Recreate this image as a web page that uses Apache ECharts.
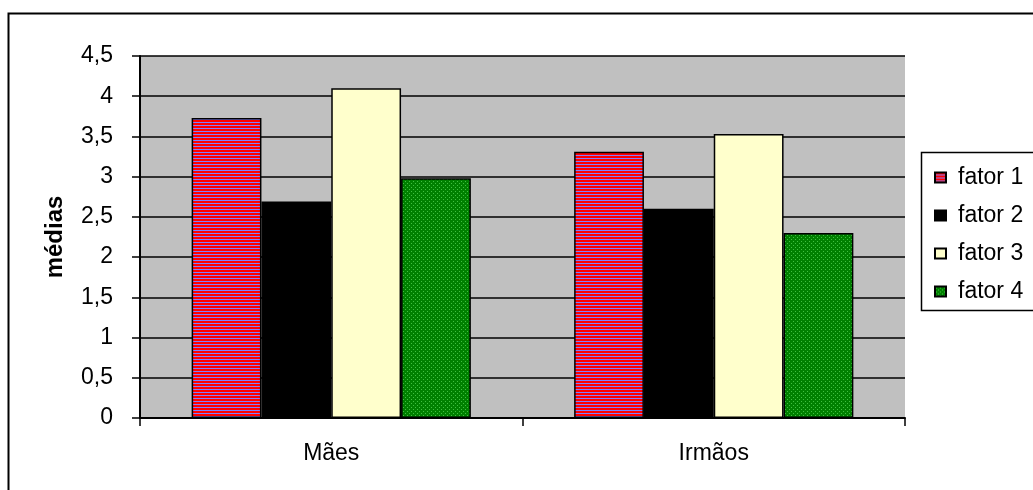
<!DOCTYPE html>
<html>
<head>
<meta charset="utf-8">
<script src="https://cdn.jsdelivr.net/npm/echarts@6/dist/echarts.min.js"></script>
<style>
  html, body { margin: 0; padding: 0; background: #fff; }
  #chart { width: 1033px; height: 490px; }
</style>
</head>
<body>
<div id="chart"></div>
<script>
// Group names along the x axis
const categories = ['Mães', 'Irmãos'];
// Series names
const seriesNames = ['fator 1', 'fator 2', 'fator 3', 'fator 4'];
// Mean scores per factor (Mães, Irmãos)
const fator1 = [3.73, 3.31];
const fator2 = [2.69, 2.60];
const fator3 = [4.10, 3.53];
const fator4 = [2.98, 2.30];
// Y axis tick values
const yTicks = [0, 0.5, 1, 1.5, 2, 2.5, 3, 3.5, 4, 4.5];

// Horizontal red / lavender stripe fill
function stripePattern() {
  const c = document.createElement('canvas');
  c.width = 4; c.height = 3;
  const g = c.getContext('2d');
  g.fillStyle = '#ff0000'; g.fillRect(0, 0, 4, 2);
  g.fillStyle = '#8080ff'; g.fillRect(0, 2, 4, 1);
  return { image: c, repeat: 'repeat' };
}
// Dotted green fill
function dotPattern() {
  const c = document.createElement('canvas');
  c.width = 4; c.height = 4;
  const g = c.getContext('2d');
  g.fillStyle = '#008000'; g.fillRect(0, 0, 4, 4);
  g.fillStyle = '#40c040';
  g.fillRect(1, 1, 1, 1);
  g.fillRect(3, 3, 1, 1);
  return { image: c, repeat: 'repeat' };
}

const fills = [stripePattern(), '#000000', '#ffffcc', dotPattern()];
const values = [fator1, fator2, fator3, fator4];

const chart = echarts.init(document.getElementById('chart'), null, { renderer: 'canvas' });

const font = 'Arial, "Liberation Sans", sans-serif';
const fs = 23;

chart.setOption({
  animation: false,
  backgroundColor: '#ffffff',
  textStyle: { fontFamily: font },
  graphic: [
    {
      type: 'rect',
      shape: { x: 8.5, y: 13.5, width: 1100, height: 600 },
      style: { fill: 'none', stroke: '#000', lineWidth: 2 },
      silent: true, z: 0
    },
    {
      type: 'rect',
      shape: { x: 921.5, y: 152.5, width: 200, height: 158 },
      style: { fill: '#fff', stroke: '#000', lineWidth: 1.5 },
      silent: true, z: 1
    }
  ],
  grid: {
    left: 140, top: 56, right: 128, bottom: 72,
    show: true, backgroundColor: '#c0c0c0', borderWidth: 0
  },
  legend: {
    orient: 'vertical',
    left: 929, top: 161,
    itemWidth: 11, itemHeight: 10,
    itemGap: 15,
    icon: 'rect',
    data: seriesNames,
    textStyle: { fontSize: fs, color: '#000', fontFamily: font, padding: [0, 0, 0, 7] },
    z: 5
  },
  xAxis: {
    type: 'category',
    data: categories,
    axisLine: { lineStyle: { color: '#000', width: 2 } },
    axisTick: { show: true, length: 8, lineStyle: { color: '#000', width: 1.5 } },
    axisLabel: { color: '#000', fontSize: fs, margin: 24, fontFamily: font },
    splitLine: { show: false }
  },
  yAxis: {
    type: 'value',
    min: yTicks[0],
    max: yTicks[yTicks.length - 1],
    interval: 0.5,
    name: 'médias',
    nameLocation: 'middle',
    nameGap: 73,
    nameTextStyle: { fontSize: 24, fontWeight: 'bold', color: '#000', fontFamily: font },
    axisLine: { show: true, lineStyle: { color: '#000', width: 2 } },
    axisTick: { show: true, length: 8, lineStyle: { color: '#000', width: 1.5 } },
    axisLabel: {
      color: '#000', fontSize: fs, margin: 27, fontFamily: font,
      formatter: v => String(v).replace('.', ',')
    },
    splitLine: { show: true, lineStyle: { color: '#000', width: 1.5 } }
  },
  series: seriesNames.map((name, i) => ({
    name: name,
    type: 'bar',
    data: values[i],
    barGap: '0%',
    barCategoryGap: '27%',
    itemStyle: { color: fills[i], borderColor: '#000', borderWidth: 1.5 }
  }))
});
</script>
</body>
</html>
